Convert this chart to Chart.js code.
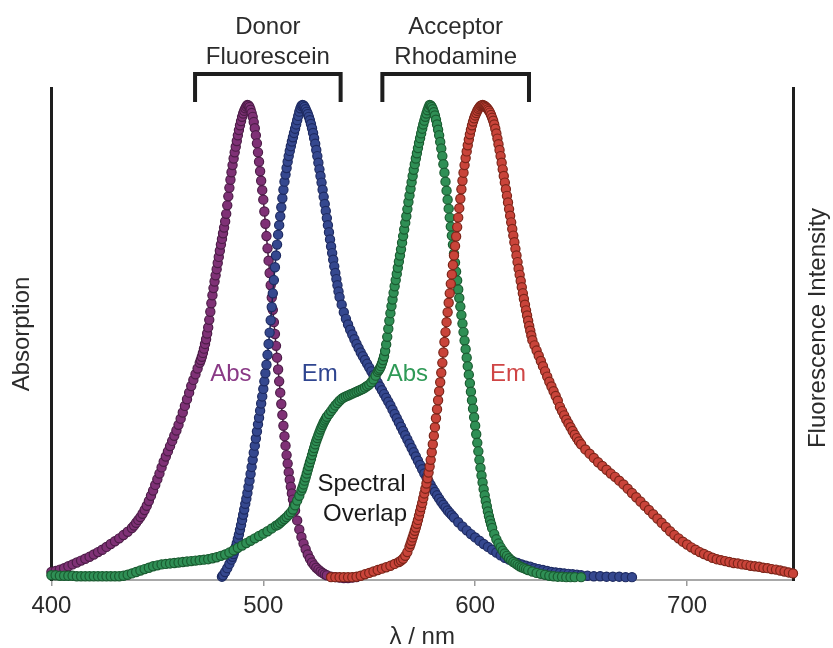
<!DOCTYPE html>
<html>
<head>
<meta charset="utf-8">
<title>FRET spectra</title>
<script src="https://cdn.jsdelivr.net/npm/chart.js@4.4.1/dist/chart.umd.min.js"></script>
<style>
  html, body { margin: 0; padding: 0; background: #fff; }
</style>
</head>
<body>
<canvas id="myChart" width="833" height="648"></canvas>
<script>
// wavelength ticks on the x axis (nm)
var wavelengthTicks = [400, 500, 600, 700];

// each series is [wavelength nm, normalised intensity]
var fluoresceinAbs = [
  [400,.013],[402,.015],[404,.018],[406,.021],[408,.025],[410,.029],[412,.033],[414,.037],[416,.041],[418,.045],
  [420,.050],[422,.055],[424,.060],[426,.066],[428,.072],[430,.078],[432,.084],[434,.091],[436,.098],[438,.106],
  [439,.111],[440,.117],[441,.123],[442,.129],[443,.136],[444,.144],[445,.153],[446,.163],[447,.174],[448,.185],
  [449,.197],[450,.209],[451,.221],[452,.234],[453,.246],[454,.257],[455,.268],[456,.279],[457,.290],[458,.301],
  [459,.312],[460,.324],[461,.337],[462,.350],[463,.364],[464,.378],[465,.392],[466,.406],[467,.419],[468,.431],
  [469,.443],[470,.455],[470.5,.461],[471,.468],[471.5,.476],[472,.485],[472.5,.495],[473,.505],[473.5,.517],[474,.530],
  [474.5,.546],[475,.563],[475.5,.581],[476,.598],[476.5,.613],[477,.627],[477.5,.640],[478,.653],[478.5,.666],[479,.679],
  [479.5,.692],[480,.705],[480.5,.717],[481,.729],[481.5,.741],[482,.754],[482.5,.770],[483,.788],[483.5,.807],[484,.825],
  [484.5,.842],[485,.858],[485.5,.873],[486,.887],[486.5,.900],[487,.912],[487.5,.924],[488,.936],[488.5,.947],[489,.957],
  [489.5,.966],[490,.975],[490.5,.982],[491,.988],[491.5,.993],[492,.997],[492.5,1.0],[493,.999],[493.5,.996],[494,.990],
  [494.5,.983],[495,.975],[495.5,.964],[496,.951],[496.5,.936],[497,.919],[497.5,.900],[498,.880],[498.5,.860],[499,.840],
  [499.5,.820],[500,.800],[500.5,.775],[501,.749],[501.5,.723],[502,.697],[502.5,.671],[503,.645],[503.5,.619],[504,.593],
  [504.5,.567],[505,.541],[505.5,.516],[506,.491],[506.5,.466],[507,.441],[507.5,.416],[508,.392],[508.5,.368],[509,.345],
  [509.5,.322],[510,.300],[510.5,.280],[511,.260],[511.5,.242],[512,.224],[512.5,.208],[513,.193],[513.5,.179],[514,.166],
  [514.5,.154],[515,.143],[516,.122],[517,.103],[518,.087],[519,.073],[520,.061],[521,.050],[522,.041],[523,.033],
  [524,.027],[525,.022],[526,.018],[527,.014],[528,.011],[529,.008],[530,.006],[532,.003],[534,.002],[536,.001],
  [538,0],[540,0],[542,.001],[544,.002]
];

var fluoresceinEm = [
  [480.5,.003],[481,.006],[482,.013],[483,.021],[484,.030],[485,.039],[485.5,.045],[486,.051],[486.5,.058],[487,.066],
  [487.5,.074],[488,.083],[488.5,.092],[489,.102],[489.5,.112],[490,.123],[490.5,.134],[491,.145],[491.5,.157],[492,.168],
  [492.5,.180],[493,.193],[493.5,.206],[494,.220],[494.5,.235],[495,.250],[495.5,.265],[496,.280],[496.5,.295],[497,.310],
  [497.5,.325],[498,.339],[498.5,.354],[499,.369],[499.5,.384],[500,.400],[500.5,.416],[501,.433],[501.5,.451],[502,.472],
  [502.5,.495],[503,.519],[503.5,.545],[504,.573],[504.5,.602],[505,.630],[505.5,.657],[506,.682],[506.5,.705],[507,.726],
  [507.5,.746],[508,.765],[508.5,.784],[509,.803],[509.5,.821],[510,.838],[510.5,.853],[511,.867],[511.5,.880],[512,.892],
  [512.5,.903],[513,.913],[513.5,.923],[514,.932],[514.5,.941],[515,.950],[515.5,.959],[516,.968],[516.5,.977],[517,.986],
  [517.5,.993],[518,.998],[518.5,1.0],[519,.999],[519.5,.996],[520,.991],[520.5,.986],[521,.981],[521.5,.975],[522,.968],
  [522.5,.960],[523,.951],[523.5,.941],[524,.930],[524.5,.918],[525,.905],[525.5,.892],[526,.878],[526.5,.864],[527,.850],
  [527.5,.836],[528,.821],[528.5,.806],[529,.791],[529.5,.776],[530,.761],[530.5,.746],[531,.731],[531.5,.716],[532,.701],
  [532.5,.687],[533,.673],[533.5,.659],[534,.645],[534.5,.632],[535,.619],[535.5,.606],[536,.594],[537,.578],[538,.562],
  [539,.548],[540,.536],[541,.525],[542,.515],[543,.505],[544,.495],[545,.486],[546,.477],[547,.469],[548,.461],
  [549,.453],[550,.445],[551,.437],[552,.429],[553,.421],[554,.413],[555,.405],[556,.397],[557,.389],[558,.381],
  [559,.373],[560,.365],[561,.356],[562,.347],[563,.338],[564,.329],[565,.320],[566,.311],[567,.302],[568,.293],
  [569,.284],[570,.275],[571,.266],[572,.257],[573,.248],[574,.239],[575,.230],[576,.221],[577,.213],[578,.205],
  [579,.197],[580,.189],[581,.182],[582,.175],[583,.168],[584,.161],[585,.155],[586,.149],[587,.143],[588,.138],
  [589,.133],[590,.128],[592,.118],[594,.109],[596,.101],[598,.093],[600,.086],[602,.079],[604,.072],[606,.066],
  [608,.060],[610,.054],[612,.048],[614,.043],[616,.039],[618,.035],[620,.032],[622,.029],[624,.026],[626,.024],
  [628,.021],[630,.019],[632,.017],[634,.015],[636,.013],[638,.012],[640,.011],[642,.010],[644,.009],[646,.008],
  [648,.007],[650,.006],[653,.005],[656,.004],[659,.004],[662,.003],[665,.003],[668,.003],[671,.002],[674,.002]
];

var rhodamineAbs = [
  [400,.006],[402,.006],[404,.005],[406,.005],[408,.005],[410,.005],[412,.004],[414,.004],[416,.004],[418,.004],
  [420,.004],[422,.004],[424,.004],[426,.004],[428,.004],[430,.004],[432,.004],[434,.005],[436,.007],[438,.010],
  [440,.013],[442,.016],[444,.019],[446,.022],[448,.025],[450,.027],[452,.029],[454,.030],[456,.031],[458,.032],
  [460,.033],[462,.034],[464,.035],[466,.036],[468,.037],[470,.038],[472,.039],[474,.040],[476,.042],[478,.044],
  [480,.047],[482,.050],[484,.054],[486,.059],[488,.064],[490,.069],[492,.074],[494,.079],[496,.084],[498,.089],
  [500,.094],[502,.099],[504,.105],[506,.111],[507,.113],[508,.117],[509,.121],[510,.125],[511,.129],[512,.134],
  [513,.139],[514,.145],[515,.154],[516,.164],[517,.174],[518,.185],[518.5,.191],[519,.198],[519.5,.206],[520,.213],
  [520.5,.221],[521,.229],[521.5,.237],[522,.245],[522.5,.252],[523,.260],[523.5,.268],[524,.275],[524.5,.283],[525,.290],
  [525.5,.296],[526,.302],[526.5,.308],[527,.314],[527.5,.319],[528,.324],[528.5,.329],[529,.333],[529.5,.337],[530,.341],
  [531,.347],[532,.353],[533,.359],[534,.365],[535,.370],[536,.375],[537,.379],[538,.382],[539,.384],[540,.386],
  [541,.388],[542,.390],[543,.392],[544,.394],[545,.396],[546,.398],[547,.400],[548,.403],[549,.406],[550,.409],
  [551,.414],[552,.420],[553,.428],[554,.436],[554.5,.440],[555,.443],[555.5,.448],[556,.454],[556.5,.461],[557,.469],
  [557.5,.480],[558,.494],[558.5,.510],[559,.527],[559.5,.544],[560,.560],[560.5,.575],[561,.589],[561.5,.603],[562,.617],
  [562.5,.630],[563,.643],[563.5,.656],[564,.669],[564.5,.682],[565,.695],[565.5,.709],[566,.723],[566.5,.737],[567,.751],
  [567.5,.765],[568,.780],[568.5,.795],[569,.809],[569.5,.823],[570,.837],[570.5,.850],[571,.863],[571.5,.875],[572,.887],
  [572.5,.898],[573,.909],[573.5,.920],[574,.930],[574.5,.940],[575,.950],[575.5,.959],[576,.967],[576.5,.975],[577,.982],
  [577.5,.989],[578,.995],[578.5,1.0],[579,.999],[579.5,.996],[580,.991],[580.5,.985],[581,.978],[581.5,.969],[582,.959],
  [582.5,.948],[583,.936],[583.5,.922],[584,.908],[584.5,.892],[585,.875],[585.5,.857],[586,.838],[586.5,.819],[587,.800],
  [587.5,.781],[588,.762],[588.5,.743],[589,.724],[589.5,.705],[590,.686],[590.5,.667],[591,.648],[591.5,.629],[592,.610],
  [592.5,.592],[593,.574],[593.5,.556],[594,.538],[594.5,.520],[595,.502],[595.5,.484],[596,.466],[596.5,.448],[597,.430],
  [597.5,.412],[598,.394],[598.5,.376],[599,.358],[599.5,.340],[600,.322],[600.5,.304],[601,.286],[601.5,.268],[602,.250],
  [602.5,.233],[603,.217],[603.5,.202],[604,.188],[604.5,.175],[605,.163],[605.5,.152],[606,.141],[606.5,.131],[607,.122],
  [607.5,.114],[608,.106],[609,.093],[610,.082],[611,.073],[612,.065],[613,.058],[614,.052],[615,.047],[616,.042],
  [617,.038],[618,.034],[619,.031],[620,.028],[621,.025],[622,.023],[623,.021],[624,.019],[625,.017],[627,.014],
  [629,.011],[631,.009],[633,.007],[635,.005],[637,.004],[639,.003],[641,.003],[643,.002],[645,.002],[647,.002],[650,.002]
];

var rhodamineEm = [
  [532,.002],[534,.002],[536,.002],[538,.002],[540,.002],[542,.002],[544,.003],[546,.005],[548,.008],[550,.011],
  [552,.014],[554,.017],[556,.020],[558,.023],[560,.026],[562,.030],[564,.034],[565,.037],[566,.041],[567,.047],
  [568,.055],[569,.066],[569.5,.072],[570,.079],[570.5,.086],[571,.093],[571.5,.100],[572,.107],[572.5,.115],[573,.123],
  [573.5,.132],[574,.141],[574.5,.150],[575,.159],[575.5,.169],[576,.179],[576.5,.189],[577,.200],[577.5,.211],[578,.223],
  [578.5,.236],[579,.250],[579.5,.266],[580,.283],[580.5,.301],[581,.319],[581.5,.338],[582,.357],[582.5,.376],[583,.395],
  [583.5,.414],[584,.434],[584.5,.455],[585,.477],[585.5,.499],[586,.520],[586.5,.541],[587,.562],[587.5,.582],[588,.602],
  [588.5,.622],[589,.642],[589.5,.662],[590,.682],[590.5,.702],[591,.722],[591.5,.742],[592,.762],[592.5,.782],[593,.802],
  [593.5,.822],[594,.840],[594.5,.857],[595,.873],[595.5,.888],[596,.902],[596.5,.915],[597,.927],[597.5,.938],[598,.948],
  [598.5,.957],[599,.965],[599.5,.972],[600,.978],[600.5,.983],[601,.988],[601.5,.992],[602,.995],[602.5,.998],[603,.999],
  [603.5,1.0],[604,.999],[604.5,.998],[605,.996],[605.5,.994],[606,.991],[606.5,.988],[607,.984],[607.5,.979],[608,.973],
  [608.5,.967],[609,.959],[609.5,.950],[610,.940],[610.5,.929],[611,.917],[611.5,.905],[612,.892],[612.5,.878],[613,.864],
  [613.5,.850],[614,.836],[614.5,.822],[615,.808],[615.5,.794],[616,.780],[616.5,.766],[617,.752],[617.5,.738],[618,.724],
  [618.5,.710],[619,.696],[619.5,.682],[620,.668],[620.5,.654],[621,.641],[621.5,.628],[622,.615],[622.5,.602],[623,.590],
  [623.5,.578],[624,.566],[624.5,.555],[625,.544],[625.5,.533],[626,.523],[626.5,.513],[627,.503],[628,.492],[629,.481],
  [630,.470],[631,.459],[632,.448],[633,.437],[634,.426],[635,.415],[636,.405],[637,.395],[638,.385],[639,.375],
  [640,.362],[641,.353],[642,.344],[643,.335],[644,.327],[645,.319],[646,.311],[647,.303],[648,.296],[649,.289],
  [650,.283],[652,.272],[654,.263],[656,.254],[658,.245],[660,.237],[662,.229],[664,.221],[666,.214],[668,.206],
  [670,.198],[672,.189],[674,.180],[676,.171],[678,.162],[680,.153],[682,.144],[684,.135],[686,.126],[688,.117],
  [690,.108],[692,.099],[694,.091],[696,.084],[698,.077],[700,.071],[702,.065],[704,.060],[706,.055],[708,.051],
  [710,.047],[712,.043],[714,.040],[716,.038],[718,.036],[720,.034],[722,.032],[724,.031],[726,.029],[728,.028],
  [730,.026],[732,.025],[734,.024],[736,.022],[738,.021],[740,.019],[742,.018],[744,.016],[746,.014],[748,.012],[750,.010]
];

var FONT_FAMILY = '"Liberation Sans", Arial, Helvetica, sans-serif';
var TEXT_COLOR = '#2b2b2b';

// dye brackets above the plot
var dyeBrackets = [
  { from: 467.8, to: 536.5, lines: ['Donor', 'Fluorescein'] },
  { from: 556.2, to: 625.4, lines: ['Acceptor', 'Rhodamine'] }
];

// text placed inside the plot, in data units
var curveLabels = [
  { text: 'Abs', nm: 484.7, value: .431, color: '#8a3a86' },
  { text: 'Em', nm: 526.6, value: .431, color: '#2f4590' },
  { text: 'Abs', nm: 568.0, value: .431, color: '#2f9a57' },
  { text: 'Em', nm: 615.5, value: .431, color: '#cf4545' },
  { text: 'Spectral', nm: 546.4, value: .199, color: '#1a1a1a' },
  { text: 'Overlap', nm: 548.0, value: .135, color: '#1a1a1a' }
];

function makeSeries(data, fill, edge, line, order) {
  return {
    data: data,
    borderColor: line,
    borderWidth: 1.5,
    pointRadius: 4.6,
    pointBorderWidth: 1.2,
    pointBackgroundColor: fill,
    pointBorderColor: edge,
    tension: 0,
    clip: 6,
    order: order
  };
}

var spectraNotes = {
  id: 'spectraNotes',
  afterDatasetsDraw: function(chart) {
    var ctx = chart.ctx;
    var xs = chart.scales.x, ys = chart.scales.y;
    ctx.save();
    ctx.font = '24px ' + FONT_FAMILY;
    ctx.textAlign = 'center';
    ctx.textBaseline = 'middle';
    ctx.lineJoin = 'round';
    curveLabels.forEach(function(l) {
      var x = xs.getPixelForValue(l.nm), y = ys.getPixelForValue(l.value);
      ctx.strokeStyle = 'rgba(255,255,255,0.9)';
      ctx.lineWidth = 6;
      ctx.strokeText(l.text, x, y);
      ctx.fillStyle = l.color;
      ctx.fillText(l.text, x, y);
    });
    ctx.restore();
  },
  afterDraw: function(chart) {
    var ctx = chart.ctx, area = chart.chartArea;
    var xs = chart.scales.x;
    ctx.save();
    ctx.strokeStyle = '#1e1e1e';
    ctx.lineWidth = 4;
    ctx.lineJoin = 'miter';
    ctx.font = '24px ' + FONT_FAMILY;
    ctx.fillStyle = TEXT_COLOR;
    ctx.textAlign = 'center';
    ctx.textBaseline = 'middle';
    dyeBrackets.forEach(function(b) {
      var x0 = xs.getPixelForValue(b.from), x1 = xs.getPixelForValue(b.to);
      ctx.beginPath();
      ctx.moveTo(x0, area.top + 14);
      ctx.lineTo(x0, area.top - 14);
      ctx.lineTo(x1, area.top - 14);
      ctx.lineTo(x1, area.top + 14);
      ctx.stroke();
      var cx = (x0 + x1) / 2;
      ctx.fillText(b.lines[0], cx, area.top - 61);
      ctx.fillText(b.lines[1], cx, area.top - 31);
    });
    // right-hand axis title reads bottom to top
    ctx.translate(818, (area.top + area.bottom) / 2 - 6);
    ctx.rotate(-Math.PI / 2);
    ctx.fillText('Fluorescence Intensity', 0, 0);
    ctx.restore();
  }
};

var ctx = document.getElementById('myChart');

window.myChart = new Chart(ctx, {
  type: 'line',
  data: {
    datasets: [
      makeSeries(fluoresceinAbs, '#7f3176', '#4d1d48', '#3f183a', 3),
      makeSeries(fluoresceinEm, '#35488f', '#1e2b62', '#1a2452', 2),
      makeSeries(rhodamineAbs, '#2f8f55', '#1a5c31', '#144a27', 1),
      makeSeries(rhodamineEm, '#c9443a', '#7c2519', '#6c2016', 0)
    ]
  },
  options: {
    responsive: false,
    animation: false,
    layout: { padding: { left: 5, right: 32, top: 88, bottom: 0 } },
    plugins: { legend: { display: false }, tooltip: { enabled: false } },
    scales: {
      x: {
        type: 'linear',
        min: 400,
        max: 750,
        afterBuildTicks: function(scale) {
          scale.ticks = wavelengthTicks.map(function(v) { return { value: v }; });
        },
        ticks: {
          padding: 7,
          color: TEXT_COLOR,
          font: { size: 24, family: FONT_FAMILY, lineHeight: 1.1 }
        },
        grid: { drawOnChartArea: false, drawTicks: true, tickLength: 6, color: '#9a9a9a', lineWidth: 1.5 },
        border: { color: '#a8a8a8', width: 2 },
        title: {
          display: true,
          text: 'λ / nm',
          color: TEXT_COLOR,
          font: { size: 24, family: FONT_FAMILY, lineHeight: 0.9 },
          padding: { top: 0, bottom: 0 }
        }
      },
      y: {
        min: -0.004,
        max: 1.036,
        ticks: { display: false },
        grid: { display: false },
        border: { display: true, color: '#1e1e1e', width: 3 },
        title: {
          display: true,
          text: 'Absorption',
          color: TEXT_COLOR,
          font: { size: 24, family: FONT_FAMILY, lineHeight: 1.1 },
          padding: { top: 4, bottom: 8 }
        }
      },
      y2: {
        position: 'right',
        min: 0,
        max: 1,
        ticks: { display: false },
        grid: { display: false },
        border: { display: true, color: '#1e1e1e', width: 3 }
      }
    }
  },
  plugins: [spectraNotes]
});
</script>
</body>
</html>
